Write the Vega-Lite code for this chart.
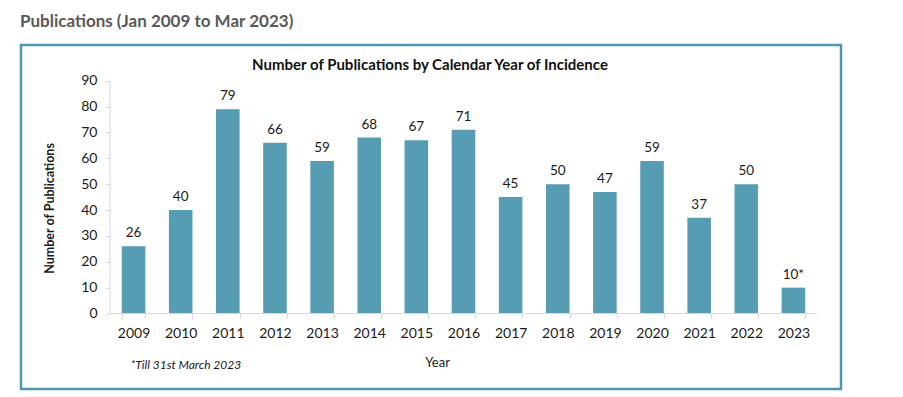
{
  "$schema": "https://vega.github.io/schema/vega-lite/v6.json",
  "autosize": {"type": "none"},
  "padding": {"left": 21, "top": 45, "right": 62, "bottom": 8},
  "background": "white",
  "width": 820,
  "height": 344,
  "config": {
    "font": "Lato",
    "view": {"stroke": "#4E97B0", "strokeWidth": 2.5}
  },
  "title": {
    "text": "Publications (Jan 2009 to Mar 2023)",
    "anchor": "start",
    "frame": "group",
    "font": "Lato",
    "fontSize": 17,
    "fontWeight": "bold",
    "color": "#595959",
    "offset": 14,
    "dx": -1
  },
  "datasets": {
    "pubs": [
      {"year": "2009", "count": 26, "label": "26"},
      {"year": "2010", "count": 40, "label": "40"},
      {"year": "2011", "count": 79, "label": "79"},
      {"year": "2012", "count": 66, "label": "66"},
      {"year": "2013", "count": 59, "label": "59"},
      {"year": "2014", "count": 68, "label": "68"},
      {"year": "2015", "count": 67, "label": "67"},
      {"year": "2016", "count": 71, "label": "71"},
      {"year": "2017", "count": 45, "label": "45"},
      {"year": "2018", "count": 50, "label": "50"},
      {"year": "2019", "count": 47, "label": "47"},
      {"year": "2020", "count": 59, "label": "59"},
      {"year": "2021", "count": 37, "label": "37"},
      {"year": "2022", "count": 50, "label": "50"},
      {"year": "2023", "count": 10, "label": "10*"}
    ],
    "note": [{"text": "*Till 31st March 2023"}],
    "heading": [{"text": "Number of Publications by Calendar Year of Incidence"}]
  },
  "layer": [
    {
      "data": {"name": "pubs"},
      "mark": {"type": "bar", "color": "#569CB3"},
      "encoding": {
        "x": {
          "field": "year",
          "type": "ordinal",
          "scale": {"range": [100.78, 784.2], "paddingInner": 0.5, "paddingOuter": 0},
          "axis": {
            "offset": -75.5,
            "domain": false,
            "grid": false,
            "tickBand": "extent",
            "tickColor": "#D9D9D9",
            "tickSize": 5,
            "labelAngle": 0,
            "labelFontSize": 14,
            "labelColor": "#1a1a1a",
            "labelPadding": 8,
            "labelOverlap": false,
            "title": "Year",
            "titleFontSize": 13,
            "titleFontWeight": "normal",
            "titleColor": "#1a1a1a",
            "titlePadding": 16,
            "titleX": 416
          }
        },
        "y": {
          "field": "count",
          "type": "quantitative",
          "scale": {"domain": [-29.18, 103.8], "nice": false, "zero": false},
          "axis": {
            "values": [0, 10, 20, 30, 40, 50, 60, 70, 80, 90],
            "tickCount": 20,
            "offset": -89,
            "domain": false,
            "grid": false,
            "tickColor": "#D9D9D9",
            "tickSize": 5,
            "labelFontSize": 14,
            "labelColor": "#1a1a1a",
            "labelPadding": 8,
            "labelOverlap": false,
            "title": "Number of Publications",
            "titleFontSize": 12.5,
            "titleFontWeight": "bold",
            "titleColor": "#1a1a1a",
            "titlePadding": 24,
            "titleY": 163
          }
        },
        "y2": {"datum": 0}
      }
    },
    {
      "data": {"name": "pubs"},
      "mark": {"type": "text", "baseline": "bottom", "dy": -6, "fontSize": 13.5, "color": "#1a1a1a"},
      "encoding": {
        "x": {"field": "year", "type": "ordinal"},
        "y": {"field": "count", "type": "quantitative"},
        "text": {"field": "label"}
      }
    },
    {
      "data": {"values": [{}]},
      "mark": {"type": "rule", "color": "#D9D9D9", "strokeWidth": 1},
      "encoding": {
        "x": {"datum": "2009", "bandPosition": -0.5},
        "y": {"datum": 0},
        "y2": {"datum": 90}
      }
    },
    {
      "data": {"values": [{}]},
      "mark": {"type": "rule", "color": "#D9D9D9", "strokeWidth": 1},
      "encoding": {
        "x": {"datum": "2009", "bandPosition": -0.5},
        "x2": {"datum": "2023", "bandPosition": 1.5},
        "y": {"datum": 0}
      }
    },
    {
      "data": {"name": "note"},
      "mark": {"type": "text", "align": "left", "baseline": "middle", "fontStyle": "italic", "fontSize": 12, "color": "#1a1a1a"},
      "encoding": {
        "x": {"datum": "2009", "bandPosition": 0.37},
        "y": {"datum": -19.9},
        "text": {"field": "text"}
      }
    },
    {
      "data": {"name": "heading"},
      "mark": {"type": "text", "align": "center", "baseline": "middle", "fontWeight": "bold", "fontSize": 15, "color": "#111111"},
      "encoding": {
        "x": {"datum": "2015", "bandPosition": 1.08},
        "y": {"datum": 96},
        "text": {"field": "text"}
      }
    }
  ]
}
